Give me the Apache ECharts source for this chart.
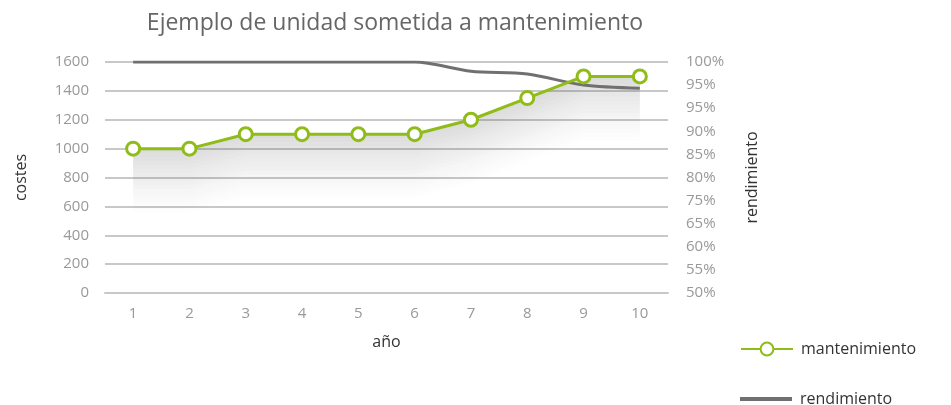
<!DOCTYPE html>
<html><head><meta charset="utf-8">
<script src="https://cdn.jsdelivr.net/npm/echarts@6/dist/echarts.min.js"></script>
<style>html,body{margin:0;padding:0;background:#fff}#c{width:951px;height:405px}</style>
</head><body><div id="c"></div>
<script>
const years = ['1','2','3','4','5','6','7','8','9','10'];
const mantenimiento = [1000,1000,1100,1100,1100,1100,1200,1350,1500,1500];
const rendimiento = [100,100,100,100,100,100,98,97.4,95,94.3];
const costesTicks = [0,200,400,600,800,1000,1200,1400,1600];
const rendimientoTicks = ['50%','55%','60%','65%','75%','80%','85%','90%','95%','95%','100%'];

const FONT = '"Open Sans", "Noto Sans", sans-serif';
const GREEN = '#8fbc16';
const GRAY = '#707070';

// shadow bands under the maintenance line
const nBands = 16, bandH = 28;
const shadowSeries = [];
shadowSeries.push({
  type:'line', stack:'sh', data: mantenimiento.map(v => v - nBands*bandH),
  symbol:'none', lineStyle:{opacity:0}, silent:true, z:1
});
for (let i = 0; i < nBands; i++) {
  const t = (i + 1) / nBands;
  const op = 0.27 * Math.pow(t, 1.3);
  shadowSeries.push({
    type:'line', stack:'sh', data: mantenimiento.map(() => bandH),
    symbol:'none', lineStyle:{opacity:0}, silent:true, z:1,
    areaStyle:{color:'rgba(70,70,70,' + op.toFixed(3) + ')'}
  });
}

const legendText = {fontFamily:FONT, fontSize:16, color:'#333', padding:[0,0,0,3]};
const chart = echarts.init(document.getElementById('c'));
chart.setOption({
  animation:false,
  textStyle:{fontFamily:FONT},
  title:{text:'Ejemplo de unidad sometida a mantenimiento', left:390, textAlign:'center', top:7,
    textStyle:{fontFamily:FONT, fontSize:23, fontWeight:'normal', color:'#666'}},
  grid:{left:105, right:283, top:62, bottom:112, containLabel:false},
  legend:[
    {left:735, top:336, itemWidth:52, itemHeight:16, data:['mantenimiento'], textStyle:legendText},
    {left:735, top:386, itemWidth:52, itemHeight:4, icon:'rect', data:['rendimiento'], textStyle:legendText}
  ],
  xAxis:{type:'category', data:years, boundaryGap:true,
    name:'año', nameLocation:'middle', nameGap:41,
    nameTextStyle:{fontFamily:FONT, fontSize:16, color:'#333'},
    axisLine:{lineStyle:{color:'#c8c8c8', width:2}}, axisTick:{show:false},
    axisLabel:{color:'#999', fontSize:15, margin:13, fontFamily:FONT}},
  yAxis:[
    {type:'value', min:0, max:1600, interval:200, position:'left',
     name:'costes', nameLocation:'middle', nameGap:76, nameRotate:90,
     nameTextStyle:{fontFamily:FONT, fontSize:16, color:'#333'},
     axisLine:{show:false}, axisTick:{show:false},
     axisLabel:{color:'#999', fontSize:15, margin:16, fontFamily:FONT,
       formatter:(v)=> costesTicks.indexOf(v) >= 0 ? String(v) : ''},
     splitLine:{lineStyle:{color:'#c8c8c8', width:2}}},
    {type:'value', min:50, max:100, interval:5, position:'right',
     name:'rendimiento', nameLocation:'middle', nameGap:76, nameRotate:90,
     nameTextStyle:{fontFamily:FONT, fontSize:16, color:'#333'},
     axisLine:{show:false}, axisTick:{show:false}, splitLine:{show:false},
     axisLabel:{color:'#999', fontSize:15, margin:18, fontFamily:FONT,
       formatter:(v)=> rendimientoTicks[Math.round((v-50)/5)] || ''}}
  ],
  series: shadowSeries.concat([
    {name:'rendimiento', type:'line', yAxisIndex:1, data:rendimiento, smooth:0.3,
     symbol:'none', z:3, lineStyle:{color:GRAY, width:3}, itemStyle:{color:GRAY}},
    {name:'mantenimiento', type:'line', yAxisIndex:0, data:mantenimiento,
     symbol:'circle', symbolSize:13, z:4,
     lineStyle:{color:GREEN, width:3},
     itemStyle:{color:'#fff', borderColor:GREEN, borderWidth:3}}
  ])
});
</script></body></html>
